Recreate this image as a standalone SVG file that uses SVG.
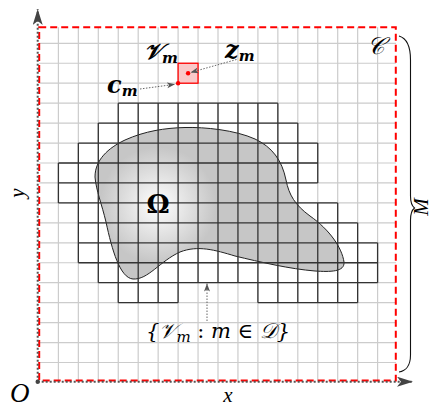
<svg xmlns="http://www.w3.org/2000/svg" width="433" height="408" viewBox="0 0 433 408">
<style>
.lg{fill:none;stroke:#cccccc;stroke-width:1.2}
.dk{fill:none;stroke:#333333;stroke-width:1.3}
.ax{fill:none;stroke:#555;stroke-width:2;stroke-dasharray:2 2}
.pt{fill:none;stroke:#555;stroke-width:0.9;stroke-dasharray:1.5 1.5}
.m{font-family:"Liberation Serif","DejaVu Serif",serif;font-style:italic;fill:#000}
.dm{font-family:"DejaVu Serif","Liberation Serif",serif;font-style:italic;fill:#000}
.bm{font-family:"DejaVu Serif","Liberation Serif",serif;font-style:italic;font-weight:bold;fill:#000}
.up{font-style:normal}
.om{font-family:"DejaVu Serif","Liberation Serif",serif;font-weight:bold;fill:#000}
</style>
<defs>
<radialGradient id="g" gradientUnits="userSpaceOnUse" cx="158" cy="205" r="58">
<stop offset="0" stop-color="#ffffff"/>
<stop offset="1" stop-color="#c6c6c6"/>
</radialGradient>
<marker id="ah" markerUnits="userSpaceOnUse" markerWidth="9" markerHeight="7" refX="8" refY="3.5" orient="auto">
<path d="M0,0.5 L8,3.5 L0,6.5 L2,3.5 z" fill="#555"/>
</marker>
<marker id="big" markerUnits="userSpaceOnUse" markerWidth="17" markerHeight="11" refX="16" refY="5" orient="auto">
<path d="M0,0 L16,5 L0,10 L4,5 z" fill="#444"/>
</marker>
</defs>
<g id="grid">
<g transform="translate(58.4 43.3) scale(19.95)">
<path class="lg" vector-effect="non-scaling-stroke" d="M0 -.8V16.92M1 -.8V16.92M2 -.8V16.92M3 -.8V16.92M4 -.8V16.92M5 -.8V16.92M6 -.8V16.92M7 -.8V16.92M8 -.8V16.92M9 -.8V16.92M10 -.8V16.92M11 -.8V16.92M12 -.8V16.92M13 -.8V16.92M14 -.8V16.92M15 -.8V16.92M16 -.8V16.92M-.97 0H16.92M-.97 1H16.92M-.97 2H16.92M-.97 3H16.92M-.97 4H16.92M-.97 5H16.92M-.97 6H16.92M-.97 7H16.92M-.97 8H16.92M-.97 9H16.92M-.97 10H16.92M-.97 11H16.92M-.97 12H16.92M-.97 13H16.92M-.97 14H16.92M-.97 15H16.92M-.97 16H16.92"/>
</g>
</g>
<g id="omega">
<path d="M95 177C95 160 108 148 125 140C145 131 165 128 185 127.5C205 127 235 130 255 139C272 147 282 160 286 180C289 195 295 205 310 216C330 230 342 248 344 262C345 272 330 272 315 271C290 269 260 262 235 256C215 250 198 245 180 252C160 261 148 280 133 279C120 278 112 250 106 222C102 205 96 190 95 177Z" fill="url(#g)" stroke="#222" stroke-width="1"/>
</g>
<g id="cells">
<g transform="translate(58.4 43.3) scale(19.95)">
<path class="dk" vector-effect="non-scaling-stroke" d="M3 3H11M2 4H12M1 5H13M0 6H13M0 7H13M0 8H14M1 9H15M1 10H16M1 11H16M2 12H16M3 13H6M10 13H15M0 6V8M1 5V11M2 4V12M3 3V13M4 3V13M5 3V13M6 3V13M7 3V12M8 3V12M9 3V12M10 3V13M11 3V13M12 4V13M13 5V7M13 8V13M14 8V13M15 9V13M16 10V12"/>
</g>
<text class="om" x="158" y="213" font-size="26" text-anchor="middle">Ω</text>
</g>
<g id="vm">
<rect x="178.1" y="63.25" width="19.95" height="19.95" fill="#f9c9c9" stroke="#ff0000" stroke-width="1.3"/>
<circle cx="188.1" cy="73.2" r="2.2" fill="#ff0000"/>
<circle cx="178.1" cy="83.2" r="2.2" fill="#ff0000"/>
</g>
<g id="border">
<rect x="39.2" y="27.3" width="356.6" height="353.3" fill="none" stroke="#ff0000" stroke-width="2" stroke-dasharray="7 4"/>
</g>
<g id="axes">
<path class="ax" d="M37.7 381.7V9" marker-end="url(#big)"/>
<path class="ax" d="M37.7 381.7H413" marker-end="url(#big)"/>
<circle cx="37.7" cy="381.7" r="2.2" fill="#444"/>
</g>
<g id="connectors">
<path class="pt" d="M236.5 59.5L190.5 72.5" marker-end="url(#ah)"/>
<path class="pt" d="M140 89L175 84.3" marker-end="url(#ah)"/>
<path class="pt" d="M207 321V283.5" marker-end="url(#ah)"/>
<path d="M399 36C406 38 410.5 46 410.5 60L410.5 196C410.5 203 412 206 414.5 208C412 210 410.5 213 410.5 220L410.5 355C410.5 365 406 371 399 372" fill="none" stroke="#111" stroke-width="1.1"/>
</g>
<g id="labels">
<text class="bm" x="144" y="59" font-size="22">𝒱<tspan font-size="15" dy="4">m</tspan></text>
<text class="bm" x="225" y="58" font-size="24">z<tspan font-size="15" dy="3">m</tspan></text>
<text class="bm" x="107" y="93" font-size="24">c<tspan font-size="15" dy="3">m</tspan></text>
<text class="m" x="367" y="54" font-size="24">𝒞</text>
<text class="dm" x="146" y="338" font-size="21">{𝒱<tspan font-size="15" dy="4">m</tspan><tspan dy="-4" class="up"> : </tspan>m <tspan class="up">∈</tspan> 𝒟}</text>
<text class="m" x="10" y="402" font-size="27">O</text>
<text class="m" x="228" y="402" font-size="21" text-anchor="middle">x</text>
<text class="m" font-size="21" text-anchor="middle" transform="translate(24 193) rotate(-90)">y</text>
<text class="m" font-size="21" text-anchor="middle" transform="translate(428 207) rotate(-90)">M</text>
</g>
</svg>
